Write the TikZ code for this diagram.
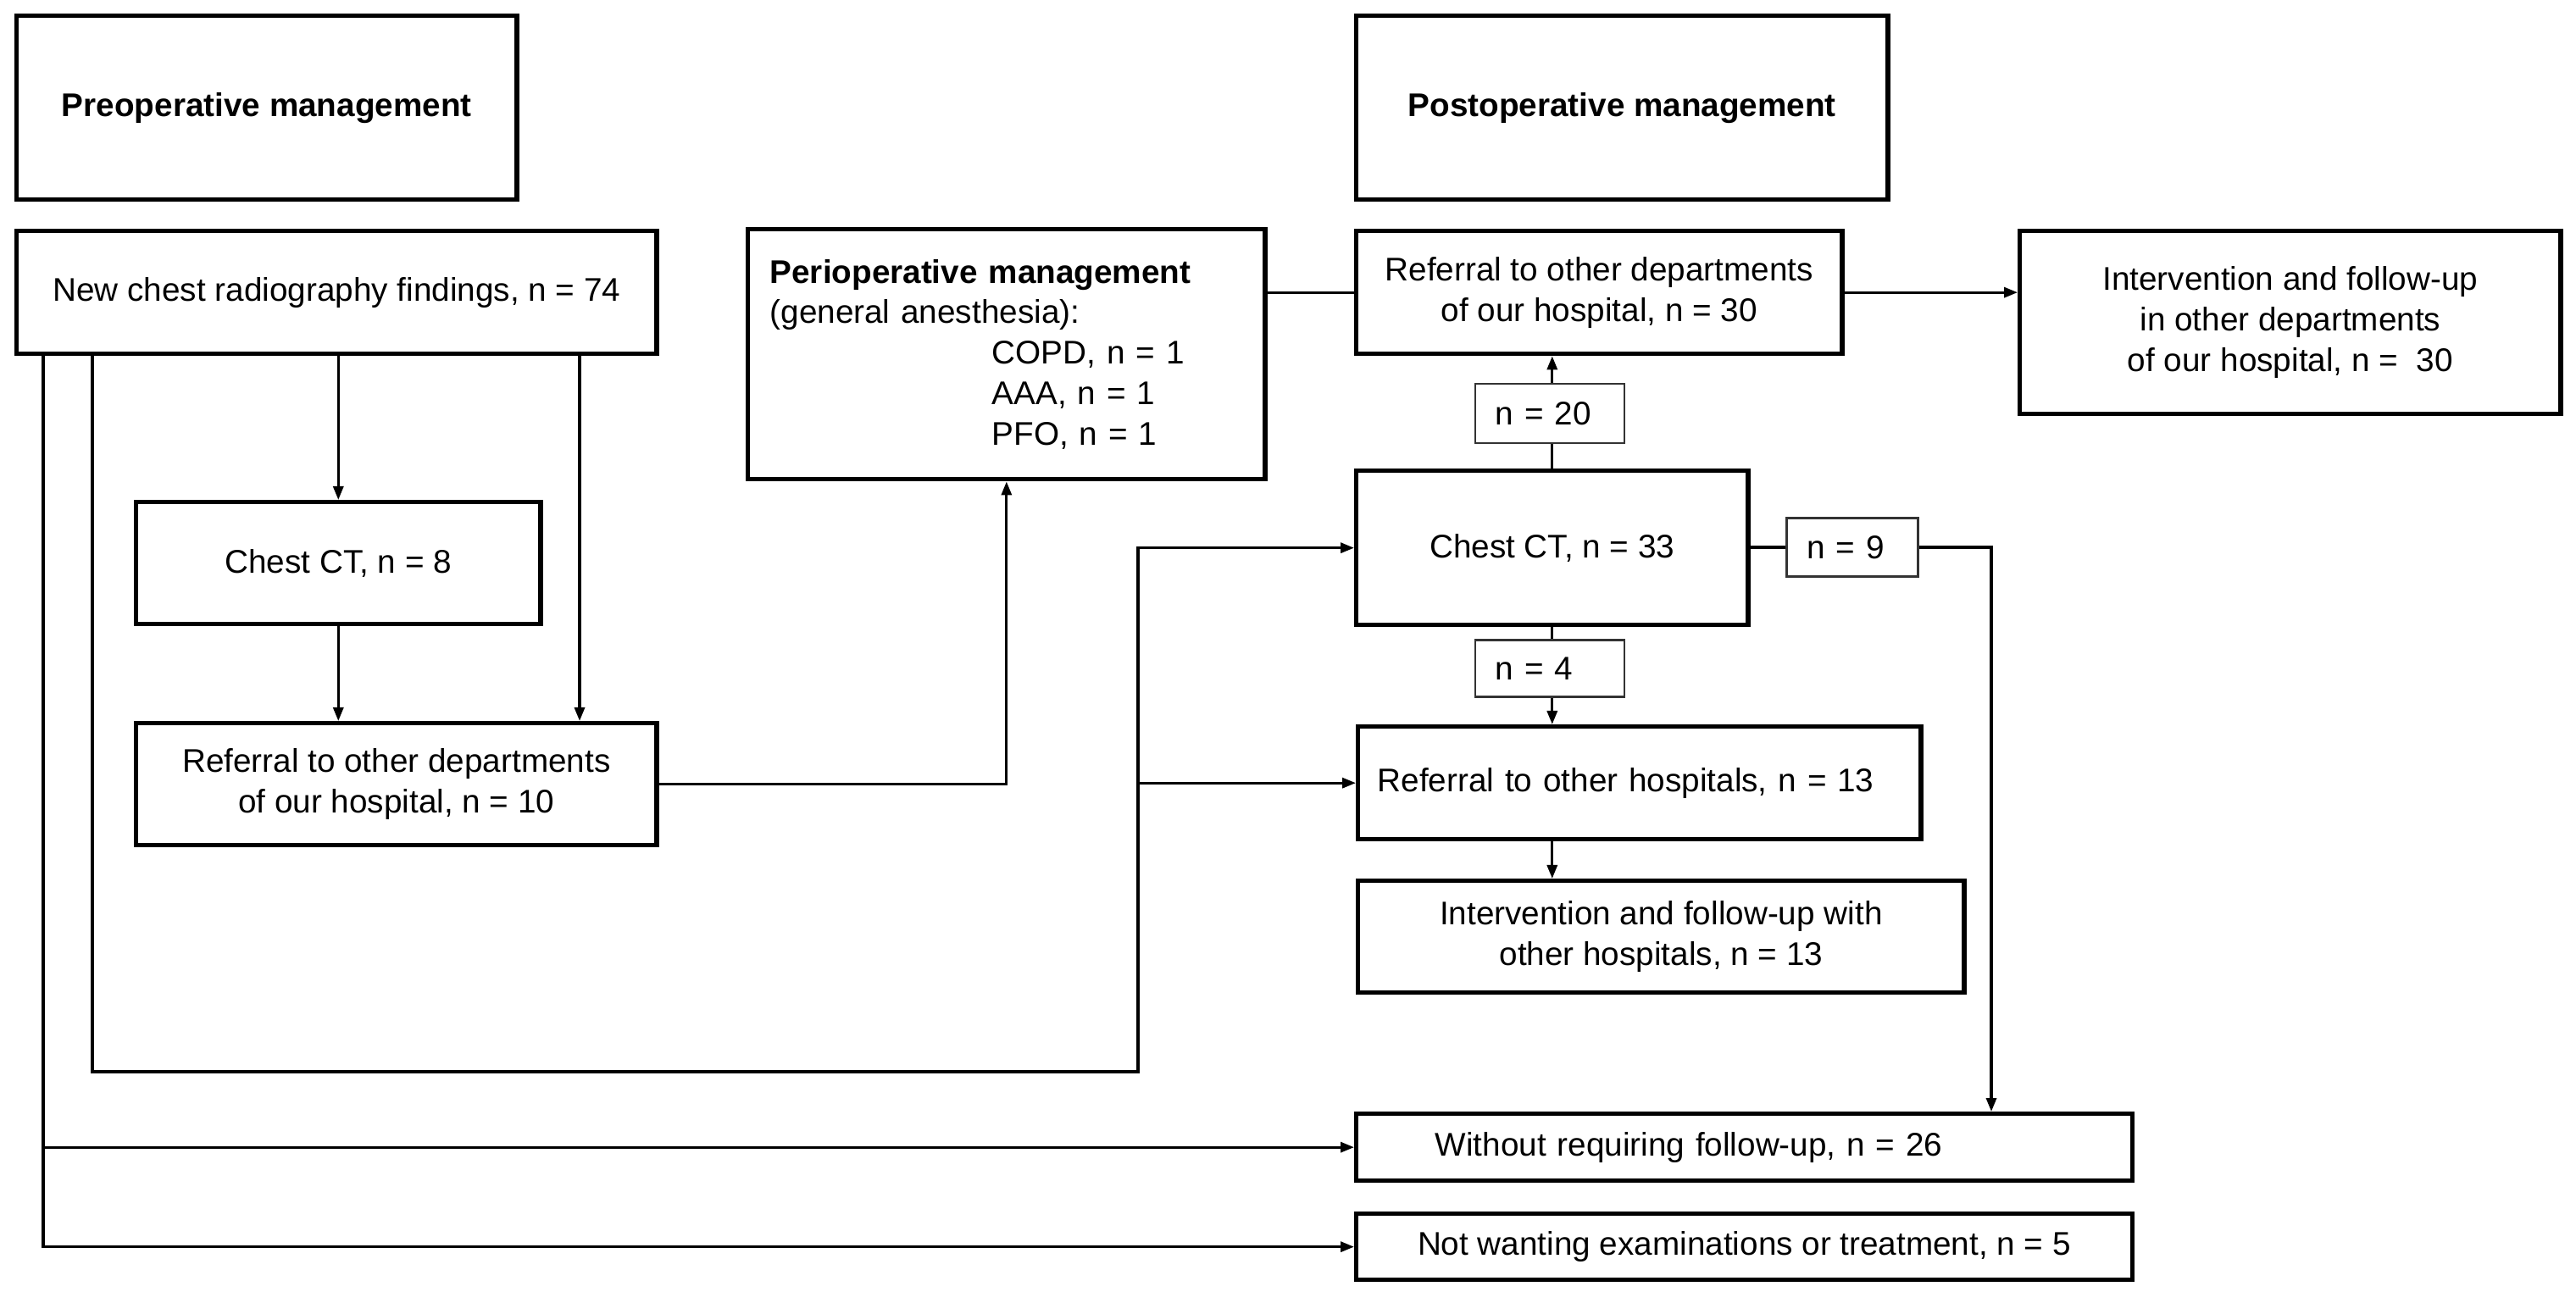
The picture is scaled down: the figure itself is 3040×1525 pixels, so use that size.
\documentclass[tikz,border=0pt]{standalone}
\usepackage{fontspec}
\setmainfont{Liberation Sans}
\usetikzlibrary{arrows.meta}
\newcommand\myfs{\fontsize{11pt}{13.6pt}\selectfont}
\begin{document}
\begin{tikzpicture}[x=0.01cm,y=-0.01cm,
  box/.style={draw, line width=1.5pt, inner sep=0pt, align=center, font=\myfs, anchor=north west},
  small/.style={draw, line width=0.8pt, draw=black!80, inner sep=0pt, inner xsep=0.24cm, align=left, font=\myfs},
  conn/.style={line width=0.9pt},
  arr/.style={line width=0.9pt, -{Triangle[length=0.16cm, width=0.12cm]}}]
\useasboundingbox (0,0) rectangle (3040,1525);
\fill[white] (0,0) rectangle (3040,1525);

% boxes
\node[box, minimum width=5.90cm, minimum height=2.17cm, font=\myfs\bfseries] (pre) at (17,16) {Preoperative management};
\node[box, minimum width=6.27cm, minimum height=2.17cm, font=\myfs\bfseries] (post) at (1598,16) {Postoperative management};
\node[box, minimum width=7.55cm, minimum height=1.45cm] (new) at (17,270) {New chest radiography findings, n = 74};
\node[box, minimum width=6.10cm, minimum height=2.95cm, align=left, text width=5.58cm, inner xsep=0.26cm] (peri) at (880,268)
  {\textbf{Perioperative management}\\(general anesthesia):\\\hspace*{2.62cm}COPD, n = 1\\\hspace*{2.62cm}AAA, n = 1\\\hspace*{2.62cm}PFO, n = 1};
\node[box, minimum width=5.73cm, minimum height=1.45cm] (r30) at (1598,270) {Referral to other departments\\of our hospital, n = 30};
\node[box, minimum width=6.38cm, minimum height=2.16cm] (int30) at (2381,270) {Intervention and follow-up\\in other departments\\of our hospital, n = \ 30};
\node[small, minimum width=1.76cm, minimum height=0.70cm, text width=1.28cm] (n20) at (1829,488) {n = 20};
\node[box, minimum width=4.62cm, minimum height=1.82cm] (ct33) at (1598,553) {Chest CT, n = 33};
\node[small, minimum width=1.55cm, minimum height=0.69cm, text width=1.07cm] (n9) at (2186,646) {n = 9};
\node[small, minimum width=1.76cm, minimum height=0.67cm, text width=1.28cm] (n4) at (1829,789) {n = 4};
\node[box, minimum width=6.64cm, minimum height=1.33cm, align=left, text width=6.18cm, inner xsep=0.23cm] (rh) at (1600,855) {Referral to other hospitals, n = 13};
\node[box, minimum width=7.15cm, minimum height=1.32cm] (ih) at (1600,1037) {Intervention and follow-up with\\other hospitals, n = 13};
\node[box, minimum width=9.15cm, minimum height=0.79cm, align=left, text width=7.29cm, inner xsep=0.93cm] (wo) at (1598,1312) {Without requiring follow-up, n = 26};
\node[box, minimum width=9.15cm, minimum height=0.78cm] (nw) at (1598,1430) {Not wanting examinations or treatment, n = 5};
\node[box, minimum width=4.77cm, minimum height=1.44cm] (ct8) at (158,590) {Chest CT, n = 8};
\node[box, minimum width=6.14cm, minimum height=1.44cm] (r10) at (158,851) {Referral to other departments\\of our hospital, n = 10};

% helper coordinates
\coordinate (xa) at (684,0);
\coordinate (xb) at (109,0);
\coordinate (xc) at (51,0);
\coordinate (xe) at (2350,0);
\coordinate (jb) at (1343,1265);

% connectors
\draw[arr] (ct8.north |- new.south) -- (ct8.north);
\draw[arr] (ct8.south) -- (ct8.south |- r10.north);
\draw[arr] (new.south -| xa) -- (r10.north -| xa);
\draw[arr] (r10.east) -| (peri.south);
\draw[conn] (peri.east |- r30.west) -- (r30.west);
\draw[arr] (r30.east) -- (r30.east -| int30.west);
\draw[conn] (ct33.north) -- (ct33.north |- n20.south);
\draw[arr] (ct33.north |- n20.north) -- (ct33.north |- r30.south);
\draw[conn] (n9.west -| ct33.east) -- (n9.west);
\draw[arr] (n9.east) -| (wo.north -| xe);
\draw[conn] (ct33.south) -- (ct33.south |- n4.north);
\draw[arr] (ct33.south |- n4.south) -- (ct33.south |- rh.north);
\draw[arr] (rh.south -| ct33.south) -- (ih.north -| ct33.south);
\draw[arr] (new.south -| xb) |- (jb) |- (ct33.west);
\draw[arr] (jb |- rh.west) -- (rh.west);
\draw[arr] (new.south -| xc) |- (nw.west);
\draw[arr] (xc |- wo.west) -- (wo.west);
\end{tikzpicture}
\end{document}
